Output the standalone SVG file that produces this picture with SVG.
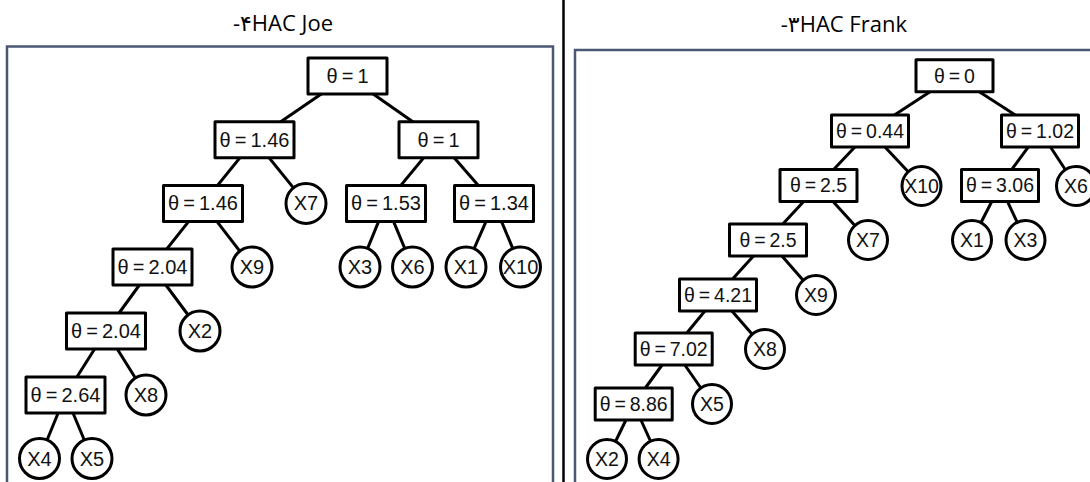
<svg xmlns="http://www.w3.org/2000/svg" width="1090" height="482" viewBox="0 0 1090 482">
  <style>
    .title { font-family: "Open Sans", "DejaVu Sans", sans-serif; font-size: 22px; fill: #000; text-anchor: end; }
    .frame { fill: none; stroke: #4a5873; stroke-width: 2.5; }
    .sep { stroke: #000; stroke-width: 2.5; }
    .edge { stroke: #000; stroke-width: 3; fill: none; }
    .box, .leaf { fill: #fff; stroke: #000; stroke-width: 3; stroke-linejoin: round; }
    .lbl { font-family: "Liberation Sans", Arial, sans-serif; font-size: 20px; fill: #111; text-anchor: middle; word-spacing: -1.5px; }
    .r .lbl { font-size: 19.5px; }
  </style>

  <rect width="1090" height="482" fill="#fff"/>

  <!-- captions -->
  <text class="title" x="333" y="31">-۴HAC Joe</text>
  <text class="title" x="907" y="32">-۳HAC Frank</text>

  <!-- column divider and panel frames -->
  <line class="sep" x1="563.5" y1="0" x2="563.5" y2="482"/>
  <rect class="frame" x="7" y="46.5" width="546" height="450"/>
  <rect class="frame" x="575" y="50" width="530" height="450"/>

  <!-- ================= Joe tree ================= -->
  <g id="joe-edges">
    <line class="edge" x1="347.5" y1="76" x2="254.5" y2="139.7"/>
    <line class="edge" x1="347.5" y1="76" x2="438.5" y2="139.7"/>
    <line class="edge" x1="254.5" y1="139.7" x2="203" y2="203.4"/>
    <line class="edge" x1="254.5" y1="139.7" x2="306" y2="203.4"/>
    <line class="edge" x1="438.5" y1="139.7" x2="386" y2="203.4"/>
    <line class="edge" x1="438.5" y1="139.7" x2="494" y2="203.4"/>
    <line class="edge" x1="203" y1="203.4" x2="152.5" y2="267"/>
    <line class="edge" x1="203" y1="203.4" x2="252" y2="267"/>
    <line class="edge" x1="386" y1="203.4" x2="360" y2="267"/>
    <line class="edge" x1="386" y1="203.4" x2="412.5" y2="267"/>
    <line class="edge" x1="494" y1="203.4" x2="466" y2="267"/>
    <line class="edge" x1="494" y1="203.4" x2="520.5" y2="267"/>
    <line class="edge" x1="152.5" y1="267" x2="106" y2="331"/>
    <line class="edge" x1="152.5" y1="267" x2="200" y2="331"/>
    <line class="edge" x1="106" y1="331" x2="65.5" y2="395"/>
    <line class="edge" x1="106" y1="331" x2="146" y2="395"/>
    <line class="edge" x1="65.5" y1="395" x2="39.5" y2="458.5"/>
    <line class="edge" x1="65.5" y1="395" x2="92" y2="458.5"/>
  </g>

  <g id="joe-nodes">
    <g id="joe-n1"><rect class="box" x="308" y="58" width="79" height="36"/><text class="lbl" x="347.5" y="83">θ = 1</text></g>
    <g id="joe-n2"><rect class="box" x="215" y="121.7" width="79" height="36"/><text class="lbl" x="254.5" y="146.7">θ = 1.46</text></g>
    <g id="joe-n3"><rect class="box" x="399" y="121.7" width="79" height="36"/><text class="lbl" x="438.5" y="146.7">θ = 1</text></g>
    <g id="joe-n4"><rect class="box" x="163.5" y="185.4" width="79" height="36"/><text class="lbl" x="203" y="210.4">θ = 1.46</text></g>
    <g id="joe-x7"><circle class="leaf" cx="306" cy="203.4" r="20"/><text class="lbl" x="306" y="210.4">X7</text></g>
    <g id="joe-n5"><rect class="box" x="346.5" y="185.4" width="79" height="36"/><text class="lbl" x="386" y="210.4">θ = 1.53</text></g>
    <g id="joe-n6"><rect class="box" x="454.5" y="185.4" width="79" height="36"/><text class="lbl" x="494" y="210.4">θ = 1.34</text></g>
    <g id="joe-n7"><rect class="box" x="113" y="249" width="79" height="36"/><text class="lbl" x="152.5" y="274">θ = 2.04</text></g>
    <g id="joe-x9"><circle class="leaf" cx="252" cy="267" r="20"/><text class="lbl" x="252" y="274">X9</text></g>
    <g id="joe-x3"><circle class="leaf" cx="360" cy="267" r="20"/><text class="lbl" x="360" y="274">X3</text></g>
    <g id="joe-x6"><circle class="leaf" cx="412.5" cy="267" r="20"/><text class="lbl" x="412.5" y="274">X6</text></g>
    <g id="joe-x1"><circle class="leaf" cx="466" cy="267" r="20"/><text class="lbl" x="466" y="274">X1</text></g>
    <g id="joe-x10"><circle class="leaf" cx="520.5" cy="267" r="20"/><text class="lbl" x="520.5" y="274">X10</text></g>
    <g id="joe-n8"><rect class="box" x="66.5" y="313" width="79" height="36"/><text class="lbl" x="106" y="338">θ = 2.04</text></g>
    <g id="joe-x2"><circle class="leaf" cx="200" cy="331" r="20"/><text class="lbl" x="200" y="338">X2</text></g>
    <g id="joe-n9"><rect class="box" x="26" y="377" width="79" height="36"/><text class="lbl" x="65.5" y="402">θ = 2.64</text></g>
    <g id="joe-x8"><circle class="leaf" cx="146" cy="395" r="20"/><text class="lbl" x="146" y="402">X8</text></g>
    <g id="joe-x4"><circle class="leaf" cx="39.5" cy="458.5" r="20"/><text class="lbl" x="39.5" y="465.5">X4</text></g>
    <g id="joe-x5"><circle class="leaf" cx="92" cy="458.5" r="20"/><text class="lbl" x="92" y="465.5">X5</text></g>
  </g>

  <!-- ================= Frank tree ================= -->
  <g id="frank-edges">
    <line class="edge" x1="954.5" y1="75.8" x2="870" y2="131"/>
    <line class="edge" x1="954.5" y1="75.8" x2="1040" y2="131"/>
    <line class="edge" x1="870" y1="131" x2="818.5" y2="185.5"/>
    <line class="edge" x1="870" y1="131" x2="921.5" y2="186"/>
    <line class="edge" x1="1040" y1="131" x2="1000" y2="185.5"/>
    <line class="edge" x1="1040" y1="131" x2="1076" y2="186"/>
    <line class="edge" x1="818.5" y1="185.5" x2="768" y2="240"/>
    <line class="edge" x1="818.5" y1="185.5" x2="868" y2="240"/>
    <line class="edge" x1="1000" y1="185.5" x2="972" y2="240"/>
    <line class="edge" x1="1000" y1="185.5" x2="1025.5" y2="240"/>
    <line class="edge" x1="768" y1="240" x2="718" y2="295"/>
    <line class="edge" x1="768" y1="240" x2="816" y2="295"/>
    <line class="edge" x1="718" y1="295" x2="673.7" y2="349"/>
    <line class="edge" x1="718" y1="295" x2="765" y2="349"/>
    <line class="edge" x1="673.7" y1="349" x2="633.7" y2="404"/>
    <line class="edge" x1="673.7" y1="349" x2="712" y2="404"/>
    <line class="edge" x1="633.7" y1="404" x2="607" y2="459"/>
    <line class="edge" x1="633.7" y1="404" x2="658.6" y2="459"/>
  </g>

  <g id="frank-nodes" class="r">
    <g id="frank-n1"><rect class="box" x="916" y="59.8" width="77" height="32"/><text class="lbl" x="954.5" y="82.6">θ = 0</text></g>
    <g id="frank-n2"><rect class="box" x="831.5" y="115" width="77" height="32"/><text class="lbl" x="870" y="137.8">θ = 0.44</text></g>
    <g id="frank-n3"><rect class="box" x="1001.5" y="115" width="77" height="32"/><text class="lbl" x="1040" y="137.8">θ = 1.02</text></g>
    <g id="frank-n4"><rect class="box" x="780" y="169.5" width="77" height="32"/><text class="lbl" x="818.5" y="192.3">θ = 2.5</text></g>
    <g id="frank-x10"><circle class="leaf" cx="921.5" cy="186" r="19.5"/><text class="lbl" x="921.5" y="192.8">X10</text></g>
    <g id="frank-n5"><rect class="box" x="961.5" y="169.5" width="77" height="32"/><text class="lbl" x="1000" y="192.3">θ = 3.06</text></g>
    <g id="frank-x6"><circle class="leaf" cx="1076" cy="186" r="19.5"/><text class="lbl" x="1076" y="192.8">X6</text></g>
    <g id="frank-n6"><rect class="box" x="729.5" y="224" width="77" height="32"/><text class="lbl" x="768" y="246.8">θ = 2.5</text></g>
    <g id="frank-x7"><circle class="leaf" cx="868" cy="240" r="19.5"/><text class="lbl" x="868" y="246.8">X7</text></g>
    <g id="frank-x1"><circle class="leaf" cx="972" cy="240" r="19.5"/><text class="lbl" x="972" y="246.8">X1</text></g>
    <g id="frank-x3"><circle class="leaf" cx="1025.5" cy="240" r="19.5"/><text class="lbl" x="1025.5" y="246.8">X3</text></g>
    <g id="frank-n7"><rect class="box" x="679.5" y="279" width="77" height="32"/><text class="lbl" x="718" y="301.8">θ = 4.21</text></g>
    <g id="frank-x9"><circle class="leaf" cx="816" cy="295" r="19.5"/><text class="lbl" x="816" y="301.8">X9</text></g>
    <g id="frank-n8"><rect class="box" x="635.2" y="333" width="77" height="32"/><text class="lbl" x="673.7" y="355.8">θ = 7.02</text></g>
    <g id="frank-x8"><circle class="leaf" cx="765" cy="349" r="19.5"/><text class="lbl" x="765" y="355.8">X8</text></g>
    <g id="frank-n9"><rect class="box" x="595.2" y="388" width="77" height="32"/><text class="lbl" x="633.7" y="410.8">θ = 8.86</text></g>
    <g id="frank-x5"><circle class="leaf" cx="712" cy="404" r="19.5"/><text class="lbl" x="712" y="410.8">X5</text></g>
    <g id="frank-x2"><circle class="leaf" cx="607" cy="459" r="19.5"/><text class="lbl" x="607" y="465.8">X2</text></g>
    <g id="frank-x4"><circle class="leaf" cx="658.6" cy="459" r="19.5"/><text class="lbl" x="658.6" y="465.8">X4</text></g>
  </g>
</svg>
